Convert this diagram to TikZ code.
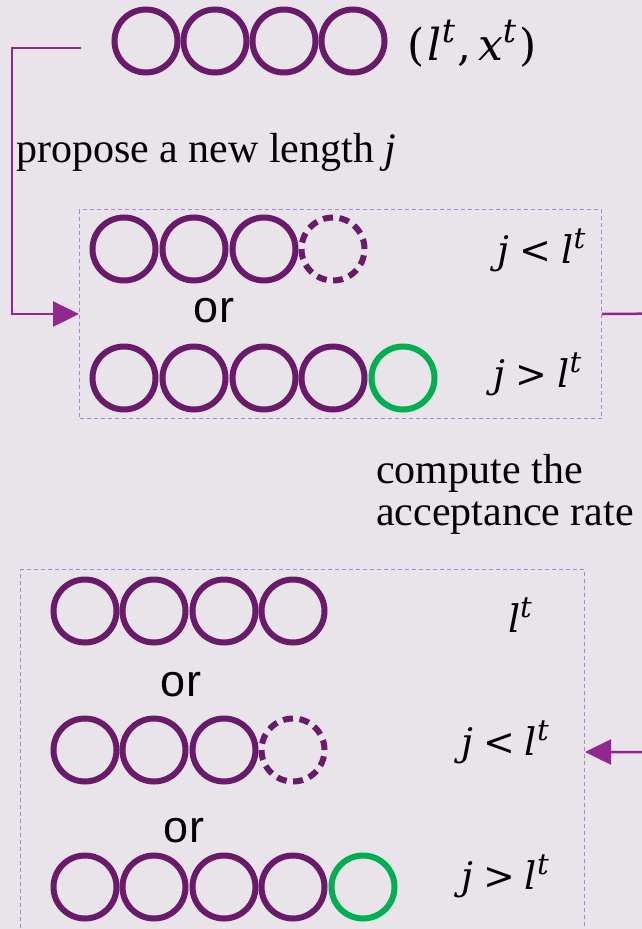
\documentclass[tikz,border=0pt]{standalone}
\usepackage{fontspec}
\setmainfont{Liberation Serif}
\newfontfamily\orfont{Liberation Sans}
\newfontfamily\mfont{DejaVu Serif}
\usetikzlibrary{arrows.meta}
\definecolor{cbg}{RGB}{233,228,234}
\definecolor{cpur}{RGB}{106,26,106}
\definecolor{carrow}{RGB}{146,40,143}
\definecolor{cgreen}{RGB}{0,176,80}
\definecolor{cbox}{RGB}{170,135,210}
\newcommand\supT[2]{\raisebox{#1}{\fontsize{#2}{#2}\selectfont\textit{t}}}
\newcommand\relgap{\hspace{10pt}}
\newcommand\ltt{\textit{l}\supT{15pt}{29}}
\begin{document}
\begin{tikzpicture}[x=1pt,y=-1pt,
  cir/.style={circle,draw=cpur,line width=6pt,minimum size=63pt,inner sep=0pt},
  dcir/.style={cir,dash pattern=on 10pt off 6.5pt},
  gcir/.style={cir,draw=cgreen},
  dbox/.style={draw=cbox,line width=1pt,dash pattern=on 4pt off 3pt,inner sep=0pt,anchor=north west},
  conn/.style={draw=carrow,line width=2.5pt},
  arr/.style={conn,-{Triangle[length=26pt,width=25pt]}},
  lab/.style={inner sep=0pt,font=\mfont\fontsize{38}{46}\selectfont},
  ortxt/.style={inner sep=0pt,font=\orfont\fontsize{45}{54}\selectfont},
  txt/.style={inner sep=0pt,font=\fontsize{42}{42}\selectfont,anchor=base west}]
\fill[cbg] (0,0) rectangle (642,929);
\clip (0,0) rectangle (642,929);

% top row
\node[cir] (t1) at (146,41) {};
\node[cir] (t2) at (215,41) {};
\node[cir] (t3) at (284,41) {};
\node[cir] (t4) at (353,41) {};
\node[lab,font=\mfont\fontsize{44}{52}\selectfont] (tl) at (472,43.5) {(\hspace{3pt}\textit{l}\supT{18pt}{33}\hspace{2pt},\hspace{7pt}\textit{x}\supT{18pt}{33}\hspace{3pt})};

\node[txt] (prop) at (16,162) {propose a new length \textit{j}};

% box 1
\node[dbox,minimum width=522pt,minimum height=209pt] (box1) at (79,209) {};
\node[cir] (a1) at (124,249) {};
\node[cir] (a2) at (194,249) {};
\node[cir] (a3) at (264,249) {};
\node[dcir] (a4) at (333,249) {};
\node[lab] (al) at (541.5,250) {\textit{j}\relgap<\relgap\ltt};
\node[ortxt] (or1) at (214,311) {or};
\node[cir] (b1) at (124,378) {};
\node[cir] (b2) at (194,378) {};
\node[cir] (b3) at (264,378) {};
\node[cir] (b4) at (333,378) {};
\node[gcir] (b5) at (403,378) {};
\node[lab] (bl) at (537.5,374) {\textit{j}\relgap>\relgap\ltt};

% compute text
\node[txt] (comp1) at (376,483) {compute the};
\node[txt] (comp2) at (376,525) {acceptance rate};

% box 2
\node[dbox,minimum width=564pt,minimum height=380pt] (box2) at (20,569) {};
\node[cir] (c1) at (85,611) {};
\node[cir] (c2) at (154,611) {};
\node[cir] (c3) at (224,611) {};
\node[cir] (c4) at (293,611) {};
\node[lab] (cl) at (520,615) {\ltt};
\node[ortxt] (or2) at (181,685) {or};
\node[cir] (d1) at (85,750) {};
\node[cir] (d2) at (154,750) {};
\node[cir] (d3) at (224,750) {};
\node[dcir] (d4) at (293,750) {};
\node[lab] (dl) at (505,742) {\textit{j}\relgap<\relgap\ltt};
\node[ortxt] (or3) at (184,831) {or};
\node[cir] (e1) at (85,887) {};
\node[cir] (e2) at (154,887) {};
\node[cir] (e3) at (224,887) {};
\node[cir] (e4) at (293,887) {};
\node[gcir] (e5) at (363,887) {};
\node[lab] (el) at (505,876) {\textit{j}\relgap>\relgap\ltt};

% connectors
\coordinate (lstart) at (81,48);
\coordinate (lcorner) at (12,48);
\draw[arr] (lstart) -- (lcorner) |- (box1.west);
\coordinate (r1) at (670,313.5);
\coordinate (r2) at (670,752);
\draw[arr] (box1.east) -- (r1) -- (r2) -- (r2 -| box2.east);
\end{tikzpicture}
\end{document}
